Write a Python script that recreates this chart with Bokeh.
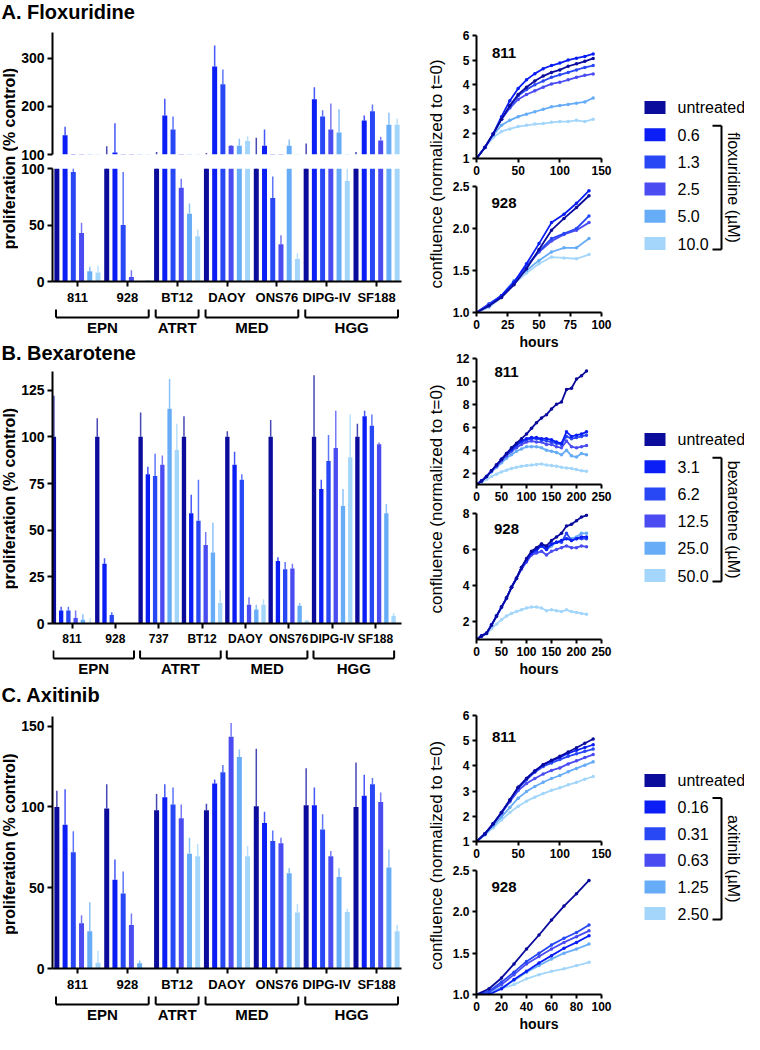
import math
from bokeh.plotting import figure
from bokeh.layouts import row, column
from bokeh.models import Range1d, FixedTicker, PrintfTickFormatter
from bokeh.core.properties import value
from bokeh.embed import file_html
from bokeh.resources import INLINE

FONT = "Liberation Sans"
COLORS = ["#0b0b9c", "#0a1ef5", "#2848f5", "#4a4cf2", "#66acf7", "#a3d6fa"]

# ---------------- categories ----------------
CELLS_A = ["811", "928", "BT12", "DAOY", "ONS76", "DIPG-IV", "SF188"]
CELLS_B = ["811", "928", "737", "BT12", "DAOY", "ONS76", "DIPG-IV", "SF188"]
GROUPS_A = [("EPN", 0, 1), ("ATRT", 2, 2), ("MED", 3, 4), ("HGG", 5, 6)]
GROUPS_B = [("EPN", 0, 1), ("ATRT", 2, 3), ("MED", 4, 5), ("HGG", 6, 7)]
CONC_FLOX = ["untreated", "0.6", "1.3", "2.5", "5.0", "10.0"]
CONC_BEXA = ["untreated", "3.1", "6.2", "12.5", "25.0", "50.0"]
CONC_AXI = ["untreated", "0.16", "0.31", "0.63", "1.25", "2.50"]

# ---------------- bar values (mean, top of error bar), one list per dose ----------------
FLOX_MEAN = [
    [100, 100, 100, 100, 100, 100, 100],
    [140, 104, 181, 283, 118, 215, 171],
    [97, 50, 152, 246, 74, 179, 190],
    [43, 4, 83, 118, 33, 152, 129],
    [9, 0, 60, 118, 118, 146, 162],
    [8, 1, 40, 128, 20, 89, 162],
]
FLOX_ERR = [
    [100, 117, 105, 103, 135, 123, 105],
    [158, 165, 216, 327, 152, 240, 181],
    [100, 97, 179, 277, 93, 192, 204],
    [52, 10, 91, 120, 41, 206, 137],
    [13, 0, 69, 133, 131, 194, 187],
    [14, 1, 46, 138, 25, 100, 175],
]
BEXA_MEAN = [
    [100, 100, 100, 100, 100, 100, 100, 100],
    [7, 32, 80, 59, 85, 33.5, 72, 111],
    [7, 4.5, 79, 55, 77, 29, 87, 106],
    [3, 0, 85, 42, 10, 29.5, 94, 96],
    [2, 0, 115, 38, 7.5, 9.5, 63, 59],
    [0.5, 0, 93, 11, 10, 1.5, 89, 4],
]
BEXA_ERR = [
    [122, 110, 113, 111, 103, 109, 133, 107],
    [9, 35, 84, 69, 92, 35.5, 77, 114],
    [9, 6, 91, 77, 80, 33, 101, 112],
    [7, 0, 90, 49, 14, 32, 114, 97],
    [5, 0, 131, 54, 10, 11, 72, 64],
    [3, 0, 107, 18, 13, 2, 112, 5.5],
]
AXI_MEAN = [
    [100, 99, 98, 98, 100.5, 101, 100],
    [89, 55, 106, 114.5, 90, 101, 107],
    [72, 46.5, 101.5, 121.5, 79, 86, 114],
    [28, 27, 93, 143.5, 77.5, 69.5, 103],
    [23, 3.3, 71, 131, 59, 56.7, 62.5],
    [3.5, 0, 69.5, 69.5, 34.7, 35, 23],
]
AXI_ERR = [
    [110, 114, 108, 102, 136, 124, 127.5],
    [111, 67.5, 114, 117, 97, 112, 120],
    [85, 60, 112, 126, 85.5, 95.5, 118],
    [33, 34, 101.5, 152, 81, 72.7, 109],
    [41, 5, 81, 135.5, 62, 62, 73.7],
    [11, 0, 77, 76, 40, 37, 27],
]

# ---------------- growth curves ----------------
HOURS_140 = [0, 10, 20, 30, 40, 50, 60, 70, 80, 90, 100, 110, 120, 130, 140]
HOURS_90 = [0, 10, 20, 30, 40, 50, 60, 70, 80, 90]
HOURS_220 = [0, 10, 20, 30, 40, 50, 60, 70, 80, 90, 100, 110, 120, 130, 140,
             150, 160, 170, 180, 190, 200, 210, 220]

FLOX_811 = [
    [1.0, 1.45, 2.0, 2.6, 3.15, 3.6, 3.9, 4.15, 4.35, 4.5, 4.6, 4.75, 4.85, 4.95, 5.07],
    [1.0, 1.45, 2.0, 2.7, 3.35, 3.85, 4.2, 4.45, 4.65, 4.78, 4.88, 5.0, 5.08, 5.15, 5.25],
    [1.0, 1.45, 2.0, 2.6, 3.1, 3.55, 3.8, 4.0, 4.15, 4.3, 4.4, 4.5, 4.6, 4.7, 4.78],
    [1.0, 1.45, 2.0, 2.6, 3.05, 3.4, 3.6, 3.75, 3.9, 4.03, 4.1, 4.2, 4.3, 4.38, 4.44],
    [1.0, 1.45, 1.95, 2.35, 2.55, 2.7, 2.8, 2.9, 3.0, 3.1, 3.15, 3.2, 3.25, 3.3, 3.46],
    [1.0, 1.45, 1.85, 2.1, 2.2, 2.3, 2.35, 2.4, 2.42, 2.47, 2.5, 2.5, 2.55, 2.5, 2.6],
]
FLOX_928 = [
    [1.0, 1.08, 1.18, 1.33, 1.52, 1.75, 1.98, 2.12, 2.25, 2.39],
    [1.0, 1.08, 1.2, 1.36, 1.58, 1.82, 2.07, 2.17, 2.3, 2.45],
    [1.0, 1.1, 1.2, 1.36, 1.55, 1.73, 1.88, 1.94, 2.0, 2.15],
    [1.0, 1.1, 1.2, 1.36, 1.55, 1.72, 1.85, 1.93, 1.98, 2.07],
    [1.0, 1.08, 1.2, 1.38, 1.5, 1.62, 1.72, 1.77, 1.77, 1.88],
    [1.0, 1.06, 1.18, 1.34, 1.47, 1.58, 1.66, 1.65, 1.64, 1.69],
]
BEXA_811 = [
    [1, 1.3, 1.7, 2.2, 2.7, 3.2, 3.7, 4.2, 4.6, 5.0, 5.4, 5.9, 6.4, 6.8, 7.1, 7.6, 8.0, 8.2, 9.3, 9.4, 10.2, 10.5, 10.9],
    [1, 1.3, 1.7, 2.2, 2.7, 3.2, 3.7, 4.1, 4.5, 4.8, 5.0, 5.1, 5.1, 5.0, 5.0, 4.9, 4.7, 4.6, 5.6, 5.2, 5.3, 5.4, 5.6],
    [1, 1.3, 1.7, 2.2, 2.7, 3.2, 3.6, 4.0, 4.4, 4.7, 4.9, 5.0, 5.0, 4.9, 4.8, 4.7, 4.6, 4.5, 5.2, 5.0, 5.1, 5.2, 5.3],
    [1, 1.3, 1.7, 2.2, 2.6, 3.1, 3.5, 3.9, 4.2, 4.5, 4.7, 4.8, 4.7, 4.7, 4.5, 4.5, 4.3, 4.2, 4.8, 4.3, 4.2, 4.3, 4.4],
    [1, 1.3, 1.7, 2.1, 2.5, 2.9, 3.3, 3.6, 3.9, 4.1, 4.3, 4.3, 4.3, 4.2, 4.0, 3.9, 3.8, 3.6, 4.0, 3.5, 3.4, 3.7, 3.6],
    [1, 1.2, 1.45, 1.7, 1.9, 2.1, 2.25, 2.4, 2.5, 2.6, 2.65, 2.7, 2.75, 2.8, 2.7, 2.65, 2.6, 2.5, 2.45, 2.4, 2.3, 2.2, 2.15],
]
BEXA_928 = [
    [1, 1.2, 1.35, 1.8, 2.3, 2.8, 3.3, 3.9, 4.4, 5.0, 5.5, 5.9, 6.1, 6.3, 6.2, 6.5, 6.7, 6.9, 7.3, 7.4, 7.6, 7.8, 7.9],
    [1, 1.2, 1.35, 1.8, 2.3, 2.8, 3.3, 3.9, 4.4, 5.0, 5.4, 5.8, 6.0, 6.2, 6.0, 6.3, 6.4, 6.5, 6.6, 6.5, 6.6, 6.7, 6.7],
    [1, 1.2, 1.35, 1.8, 2.3, 2.8, 3.3, 3.9, 4.4, 5.0, 5.4, 5.8, 5.9, 6.3, 6.1, 6.3, 6.4, 6.4, 6.9, 6.5, 6.6, 6.6, 6.6],
    [1, 1.2, 1.35, 1.8, 2.3, 2.8, 3.3, 3.9, 4.4, 4.9, 5.3, 5.7, 5.8, 5.9, 5.7, 5.9, 6.0, 6.1, 6.2, 6.1, 6.1, 6.2, 6.15],
    [1, 1.2, 1.35, 1.8, 2.3, 2.8, 3.3, 3.9, 4.4, 5.0, 5.4, 5.8, 6.0, 6.2, 6.0, 6.2, 6.4, 6.5, 6.6, 6.6, 6.7, 6.9, 6.9],
    [1, 1.15, 1.3, 1.6, 1.85, 2.1, 2.3, 2.45, 2.55, 2.65, 2.75, 2.8, 2.8, 2.75, 2.6, 2.65, 2.6, 2.55, 2.65, 2.55, 2.5, 2.45, 2.4],
]
AXI_811 = [
    [1.0, 1.3, 1.7, 2.15, 2.65, 3.15, 3.5, 3.8, 4.05, 4.22, 4.38, 4.55, 4.72, 4.9, 5.07],
    [1.0, 1.3, 1.7, 2.15, 2.65, 3.15, 3.5, 3.8, 4.05, 4.2, 4.34, 4.5, 4.62, 4.73, 4.84],
    [1.0, 1.3, 1.7, 2.15, 2.62, 3.1, 3.45, 3.75, 3.98, 4.12, 4.25, 4.38, 4.48, 4.58, 4.67],
    [1.0, 1.3, 1.7, 2.12, 2.58, 3.02, 3.3, 3.5, 3.68, 3.82, 3.92, 4.08, 4.2, 4.33, 4.45],
    [1.0, 1.28, 1.62, 1.98, 2.35, 2.72, 2.98, 3.18, 3.35, 3.5, 3.62, 3.77, 3.9, 4.03, 4.16],
    [1.0, 1.25, 1.55, 1.85, 2.15, 2.4, 2.6, 2.76, 2.9, 3.03, 3.13, 3.25, 3.35, 3.47, 3.58],
]
AXI_928 = [
    [1.0, 1.07, 1.2, 1.37, 1.55, 1.72, 1.9, 2.07, 2.22, 2.38],
    [1.0, 1.0, 1.07, 1.18, 1.28, 1.38, 1.47, 1.56, 1.63, 1.71],
    [1.0, 1.04, 1.15, 1.27, 1.4, 1.5, 1.6, 1.68, 1.75, 1.84],
    [1.0, 1.03, 1.12, 1.24, 1.37, 1.46, 1.55, 1.63, 1.7, 1.77],
    [1.0, 1.02, 1.08, 1.17, 1.27, 1.35, 1.43, 1.5, 1.55, 1.61],
    [1.0, 1.02, 1.07, 1.12, 1.19, 1.24, 1.28, 1.31, 1.35, 1.39],
]


# ---------------- helpers ----------------
def base_fig(w, h, xr, yr, left=0, right=0, top=0, bottom=0, xaxis=False, yaxis=False):
    p = figure(width=w, height=h, x_range=xr, y_range=yr, title=None,
               output_backend="svg", toolbar_location=None,
               x_axis_location="below" if xaxis else None,
               y_axis_location="left" if yaxis else None,
               min_border_left=left, min_border_right=right,
               min_border_top=top, min_border_bottom=bottom)
    p.outline_line_color = None
    p.grid.visible = False
    p.border_fill_color = "white"
    p.background_fill_color = "white"
    return p


def style_axis(ax, size="13px", tick_out=5):
    ax.axis_line_width = 2
    ax.axis_line_color = "black"
    ax.major_tick_line_width = 2
    ax.major_tick_line_color = "black"
    ax.major_tick_out = tick_out
    ax.major_tick_in = 0
    ax.minor_tick_line_color = None
    ax.major_label_text_font = FONT
    ax.major_label_text_font_style = "bold"
    ax.major_label_text_font_size = size
    ax.major_label_text_color = "black"
    ax.major_label_standoff = 3


def add_text(p, x, y, txt, size, bold=False, align="center", angle=0.0):
    p.text(x=[x], y=[y], text=[txt], text_font=value(FONT), text_font_size=size,
           text_font_style="bold" if bold else "normal", text_align=align,
           text_baseline="middle", angle=angle, text_color="black")


def draw_bars(p, ncell, means, errs, sp, bw):
    xs, tops, cols, ex, ey0, ey1, ecol = [], [], [], [], [], [], []
    for j in range(6):
        for i in range(ncell):
            x = i + (j - 2.5) * sp
            xs.append(x)
            tops.append(means[j][i])
            cols.append(COLORS[j])
            if errs[j][i] > means[j][i]:
                ex.append(x)
                ey0.append(means[j][i])
                ey1.append(errs[j][i])
                ecol.append(COLORS[j])
    p.vbar(x=xs, top=tops, bottom=0, width=bw, fill_color=cols, line_color=None)
    p.segment(x0=ex, y0=ey0, x1=ex, y1=ey1, line_color=ecol, line_width=1.5, line_alpha=0.75)


BAR_W = 388
BAR_LEFT = 32


def bar_fig(h, top, bottom, xr, yr, yticks, cells, means, errs, sp, xaxis=True, xsize="13px"):
    p = base_fig(BAR_W, h, xr, yr, left=BAR_LEFT, right=5, top=top, bottom=bottom,
                 xaxis=xaxis, yaxis=True)
    draw_bars(p, len(cells), means, errs, sp, 0.1)
    ya = p.yaxis[0]
    ya.ticker = FixedTicker(ticks=yticks)
    style_axis(ya, "14px", 5)
    if xaxis:
        xa = p.xaxis[0]
        xa.ticker = FixedTicker(ticks=list(range(len(cells))))
        xa.major_label_overrides = {i: c for i, c in enumerate(cells)}
        style_axis(xa, xsize, 5)
    return p


def bracket_fig(xr, groups, h=29):
    p = base_fig(BAR_W, h, xr, Range1d(0, h), left=BAR_LEFT, right=5)
    x0s, y0s, x1s, y1s = [], [], [], []
    for name, a, b in groups:
        xa, xb = a - 0.43, b + 0.43
        x0s += [xa, xa, xb]
        x1s += [xb, xa, xb]
        y0s += [h - 10, h - 10, h - 10]
        y1s += [h - 10, h - 2, h - 2]
        add_text(p, (a + b) / 2, h - 20, name, "15px", bold=True)
    p.segment(x0=x0s, y0=y0s, x1=x1s, y1=y1s, line_color="black", line_width=2)
    return p


def ylab_fig(h, cy, txt):
    p = base_fig(18, h, Range1d(0, 18), Range1d(0, h))
    add_text(p, 9, h - cy, txt, "16px", bold=True, angle=math.pi / 2)
    return p


def title_fig(h, cy, txt):
    p = base_fig(406, h, Range1d(0, 406), Range1d(0, h))
    add_text(p, 1, h - cy, txt, "20px", bold=True, align="left")
    return p


def line_fig(h, top, bottom, xmax, yr, xticks, yticks, hours, series, label,
             lyf, lxf=0.22, fmt=None, hours_label=False):
    p = base_fig(169, h, Range1d(0, xmax), Range1d(*yr), left=30, right=14,
                 top=top, bottom=bottom, xaxis=True, yaxis=True)
    for j in reversed(range(6)):
        p.line(hours, series[j], line_color=COLORS[j], line_width=1.8)
        p.scatter(hours, series[j], size=3.5, marker="circle",
                  fill_color=COLORS[j], line_color=None)
    xa = p.xaxis[0]
    xa.ticker = FixedTicker(ticks=xticks)
    style_axis(xa, "12px", 4)
    ya = p.yaxis[0]
    ya.ticker = FixedTicker(ticks=yticks)
    style_axis(ya, "12px", 4)
    if fmt:
        ya.formatter = PrintfTickFormatter(format=fmt)
    if hours_label:
        xa.axis_label = "hours"
        xa.axis_label_text_font = FONT
        xa.axis_label_text_font_style = "bold"
        xa.axis_label_text_font_size = "14px"
        xa.axis_label_text_color = "black"
        xa.axis_label_standoff = 2
    add_text(p, lxf * xmax, yr[0] + lyf * (yr[1] - yr[0]), label, "15px", bold=True)
    return p


# ---------------- left column: bar charts ----------------
xrA = Range1d(-0.5, 6.5)
upA = bar_fig(133, 4, 7, xrA, Range1d(100, 354), [100, 200, 300], CELLS_A,
              FLOX_MEAN, FLOX_ERR, 0.165, xaxis=False)
lowA = bar_fig(146, 7, 23, xrA, Range1d(0, 100), [0, 50, 100], CELLS_A,
               FLOX_MEAN, FLOX_ERR, 0.165)
brA = bracket_fig(xrA, GROUPS_A)

xrB = Range1d(-0.45, 7.6)
barB = bar_fig(280, 3, 23, xrB, Range1d(0, 135), [0, 25, 50, 75, 100, 125], CELLS_B,
               BEXA_MEAN, BEXA_ERR, 0.167, xsize="12px")
brB = bracket_fig(xrB, GROUPS_B)

xrC = Range1d(-0.5, 6.5)
barC = bar_fig(280, 2, 23, xrC, Range1d(0, 156), [0, 50, 100, 150], CELLS_A,
               AXI_MEAN, AXI_ERR, 0.165)
brC = bracket_fig(xrC, GROUPS_A)

YLAB = "proliferation (% control)"
left = column(
    title_fig(28, 11, "A. Floxuridine"),
    row(ylab_fig(308, 130, YLAB), column(upA, lowA, brA)),
    title_fig(32, 16, "B. Bexarotene"),
    row(ylab_fig(309, 130, YLAB), column(barB, brB)),
    title_fig(37, 17, "C. Axitinib"),
    row(ylab_fig(309, 129.5, YLAB), column(barC, brC)),
)

# ---------------- middle column: growth curves ----------------
TOTAL_H = 1034
lA811 = line_fig(180, 35, 22, 150, (1, 6), [0, 50, 100, 150], [1, 2, 3, 4, 5, 6],
                 HOURS_140, FLOX_811, "811", 0.86)
lA928 = line_fig(172, 6, 40, 100, (1, 2.5), [0, 25, 50, 75, 100], [1.0, 1.5, 2.0, 2.5],
                 HOURS_90, FLOX_928, "928", 0.87, fmt="%.1f", hours_label=True)
lB811 = line_fig(154, 6, 22, 250, (1, 12), [0, 50, 100, 150, 200, 250], [2, 4, 6, 8, 10, 12],
                 HOURS_220, BEXA_811, "811", 0.89, lxf=0.24)
lB928 = line_fig(173, 7, 38, 250, (1, 8), [0, 50, 100, 150, 200, 250], [2, 4, 6, 8],
                 HOURS_220, BEXA_928, "928", 0.875, lxf=0.24, hours_label=True)
lC811 = line_fig(184, 36, 22, 150, (1, 6), [0, 50, 100, 150], [1, 2, 3, 4, 5, 6],
                 HOURS_140, AXI_811, "811", 0.83)
lC928 = line_fig(171, 7, 37, 100, (1, 2.5), [0, 20, 40, 60, 80, 100], [1.0, 1.5, 2.0, 2.5],
                 HOURS_90, AXI_928, "928", 0.87, fmt="%.1f", hours_label=True)

conf = base_fig(40, TOTAL_H, Range1d(0, 40), Range1d(0, TOTAL_H))
for cy in [173.5, 498.5, 855]:
    add_text(conf, 30, TOTAL_H - cy, "confluence (normalized to t=0)", "17px",
             angle=math.pi / 2)

# ---------------- legends ----------------
leg = base_fig(129, TOTAL_H, Range1d(0, 129), Range1d(0, TOTAL_H))
for y0, dy, labels, drug in [(107, 27.2, CONC_FLOX, "floxuridine"),
                             (439, 27.2, CONC_BEXA, "bexarotene"),
                             (780, 26.6, CONC_AXI, "axitinib")]:
    ys = [TOTAL_H - (y0 + dy * i) for i in range(6)]
    leg.rect(x=[39.5] * 6, y=ys, width=21, height=13, fill_color=COLORS, line_color=None)
    leg.text(x=[62] * 6, y=ys, text=labels, text_font=value(FONT), text_font_size="16px",
             text_baseline="middle", text_align="left", text_color="black")
    tb = y0 + dy - 9
    bb = y0 + 5 * dy + 6
    leg.segment(x0=[106, 97, 97], y0=[TOTAL_H - tb, TOTAL_H - tb, TOTAL_H - bb],
                x1=[106, 106, 106], y1=[TOTAL_H - bb, TOTAL_H - tb, TOTAL_H - bb],
                line_color="black", line_width=2)
    add_text(leg, 118, TOTAL_H - (tb + bb) / 2, drug + " (\u00b5M)", "16px",
             angle=-math.pi / 2)

layout = row(left, conf, column(lA811, lA928, lB811, lB928, lC811, lC928), leg)

open("out.html", "w").write(file_html(layout, INLINE))
